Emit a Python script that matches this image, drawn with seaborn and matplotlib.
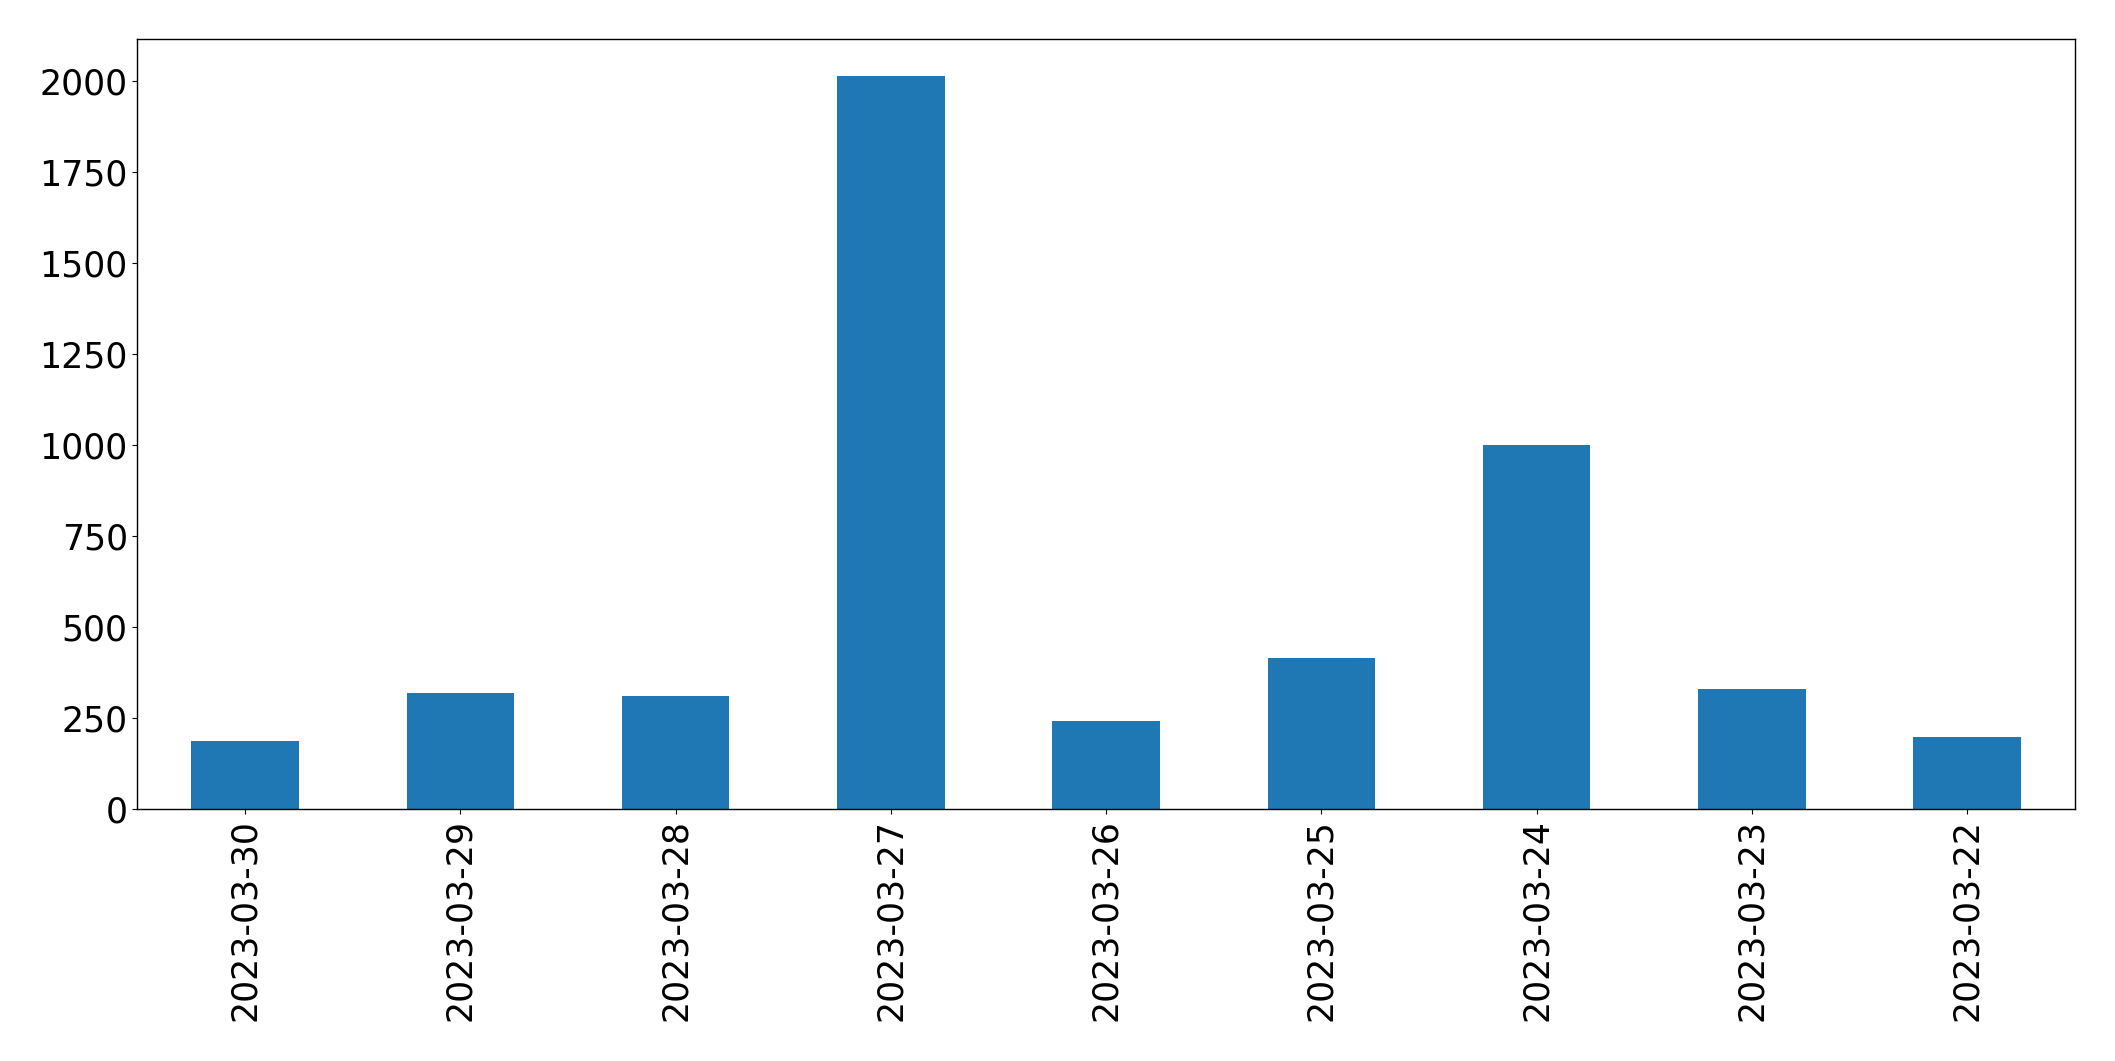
import matplotlib
matplotlib.use("Agg")
import matplotlib.pyplot as plt
import seaborn as sns
import pandas as pd

dates = ["2023-03-30", "2023-03-29", "2023-03-28", "2023-03-27", "2023-03-26",
         "2023-03-25", "2023-03-24", "2023-03-23", "2023-03-22"]
counts = [187, 319, 311, 2015, 242, 415, 1001, 330, 198]

df = pd.DataFrame({"date": dates, "count": counts})

fig = plt.figure(figsize=(21.15, 10.61), dpi=100)
ax = fig.add_axes([0.065, 0.2375, 0.916, 0.7255])
sns.barplot(data=df, x="date", y="count", order=dates, color="#1f77b4",
            saturation=1, width=0.5, linewidth=0, ax=ax)
ax.set_xlim(-0.5, len(dates) - 0.5)
ax.set_ylim(0, max(counts) * 1.05)
ax.set_xlabel("")
ax.set_ylabel("")
ax.tick_params(axis="both", labelsize=25)
ax.tick_params(axis="x", labelrotation=90)
for s in ax.spines.values():
    s.set_visible(True)
    s.set_color("black")
    s.set_linewidth(1.0)
fig.savefig("out.png", dpi=100)
